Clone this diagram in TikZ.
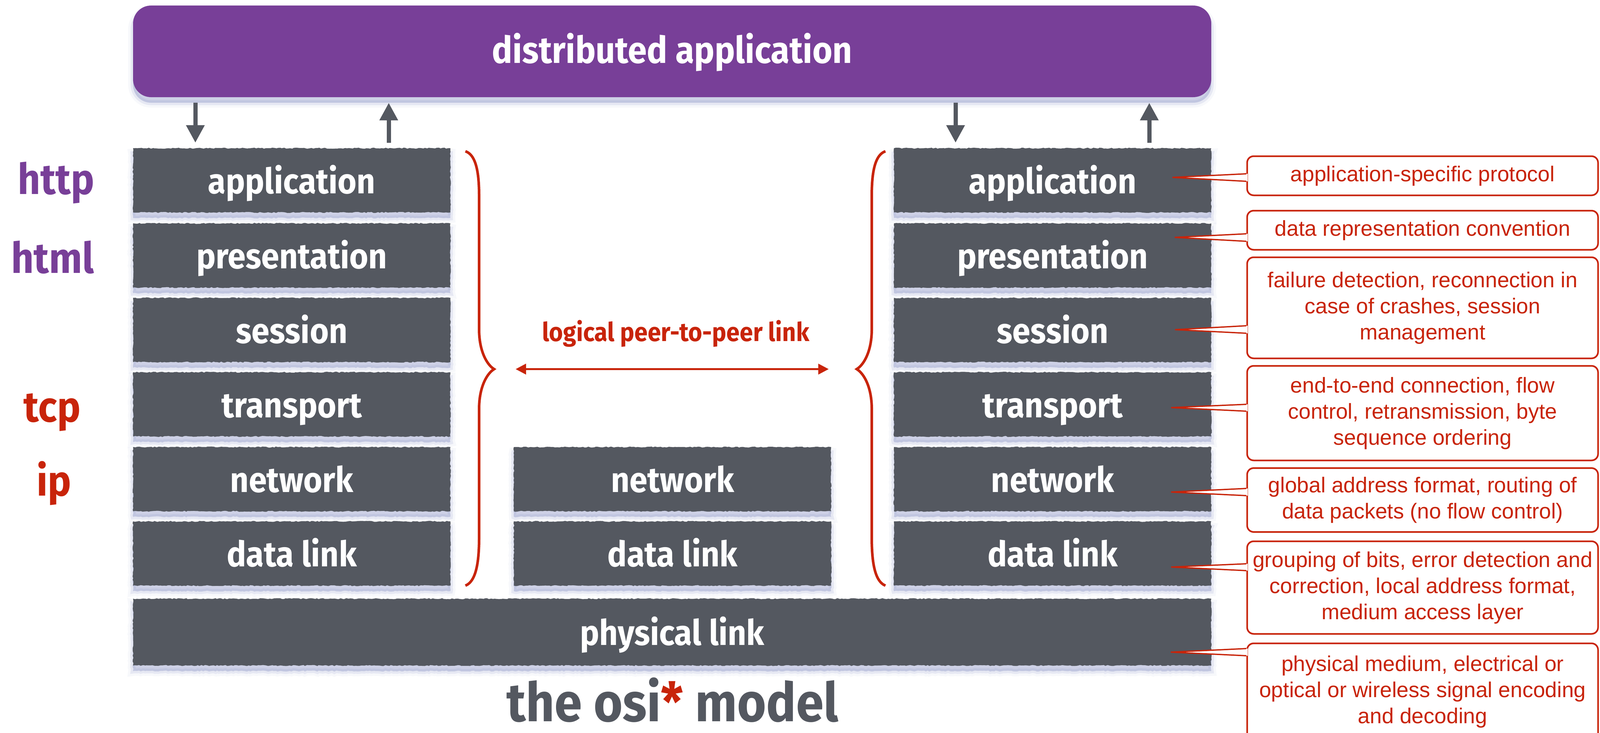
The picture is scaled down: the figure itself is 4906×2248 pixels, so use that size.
\documentclass[tikz,border=0pt]{standalone}
\usepackage{fontspec}
\setmainfont{Liberation Sans}
\newfontfamily\hand[FakeStretch=0.92]{Fira Sans}
\usetikzlibrary{arrows.meta,decorations.pathmorphing}
\definecolor{purp}{RGB}{120,63,152}
\definecolor{slate}{RGB}{84,88,96}
\definecolor{rd}{RGB}{200,36,10}
\definecolor{shadowc}{RGB}{125,135,190}
\tikzset{
  rough/.style={decorate,decoration={random steps,segment length=6pt,amplitude=1.6pt}},
  shad/.style={
    preaction={draw=shadowc,draw opacity=0.06,line width=30pt,transform canvas={yshift=-17pt}},
    preaction={fill=shadowc,fill opacity=0.35,draw=shadowc,draw opacity=0.14,line width=15pt,transform canvas={yshift=-17pt}}},
  hw/.style={font=\hand\bfseries\fontsize{#1}{#1}\selectfont},
  layer/.style={rough,shad,fill=slate,text=white,hw=108,minimum width=973pt,minimum height=197pt,inner sep=0pt,text height=80pt,text depth=0pt},
  appbox/.style={shad,fill=purp,text=white,hw=114,minimum width=3306pt,minimum height=281pt,inner sep=0pt,rounded corners=55pt,text height=71pt,text depth=0pt},
  side/.style={hw=131,anchor=base,inner sep=0pt},
  note/.style={draw=rd,line width=5pt,rounded corners=20pt,fill=white,text=rd,align=center,font=\fontsize{66}{80}\selectfont,inner sep=0pt,minimum width=1076pt},
  garrow/.style={draw=slate,line width=13pt,-{Triangle[width=54pt,length=54pt]}},
  brace/.style={draw=rd,line width=8pt},
  ptr/.style={draw=rd,line width=4pt,line join=miter},
}
\begin{document}
\begin{tikzpicture}[x=1pt,y=-1pt]
\useasboundingbox (0,0) rectangle (4906,2248);
\clip (0,0) rectangle (4906,2248);

% annotation boxes
\node[note,minimum height=120pt] (n1) at (4362,539) {application-specific protocol};
\node[note,minimum height=120pt] (n2) at (4362,706) {data representation convention};
\node[note,minimum height=310pt] (n3) at (4362,944) {failure detection, reconnection in\\case of crashes, session\\management};
\node[note,minimum height=290pt] (n4) at (4362,1267) {end-to-end connection, flow\\control, retransmission, byte\\sequence ordering};
\node[note,minimum height=196pt] (n5) at (4362,1533.5) {global address format, routing of\\data packets (no flow control)};
\node[note,minimum height=284pt] (n6) at (4362,1802) {grouping of bits, error detection and\\correction, local address format,\\medium access layer};
\node[note,minimum height=296pt] (n7) at (4362,2121) {physical medium, electrical or\\optical or wireless signal encoding\\and decoding};

% top box
\node[appbox] (dist) at (2061,157.5) {distributed application};

% left stack
\node[layer] (appL) at (894.5,553) {application};
\node[layer] (preL) at (894.5,783.5) {presentation};
\node[layer] (sesL) at (894.5,1012) {session};
\node[layer] (traL) at (894.5,1240) {transport};
\node[layer] (netL) at (894.5,1469.5) {network};
\node[layer] (dlL) at (894.5,1697.5) {data link};
% middle stack
\node[layer] (netM) at (2062,1469.5) {network};
\node[layer] (dlM) at (2062,1697.5) {data link};
% right stack
\node[layer] (appR) at (3227.5,553) {application};
\node[layer] (preR) at (3227.5,783.5) {presentation};
\node[layer] (sesR) at (3227.5,1012) {session};
\node[layer] (traR) at (3227.5,1240) {transport};
\node[layer] (netR) at (3227.5,1469.5) {network};
\node[layer] (dlR) at (3227.5,1697.5) {data link};
% physical
\node[layer,minimum width=3306pt,minimum height=205pt] (phys) at (2061,1938.5) {physical link};

% arrows between top box and application layers
\coordinate (dL) at (599,0);
\coordinate (uL) at (1192,0);
\coordinate (dR) at (2930,0);
\coordinate (uR) at (3524,0);
\draw[garrow,shorten <=17pt,shorten >=16.5pt] (dist.south -| dL) -- (appL.north -| dL);
\draw[garrow,shorten <=16.5pt,shorten >=17pt] (appL.north -| uL) -- (dist.south -| uL);
\draw[garrow,shorten <=17pt,shorten >=16.5pt] (dist.south -| dR) -- (appR.north -| dR);
\draw[garrow,shorten <=16.5pt,shorten >=17pt] (appR.north -| uR) -- (dist.south -| uR);

% braces
\draw[brace] (1427,464) .. controls (1460,475) and (1469,530) .. (1469,600) -- (1469,1010)
  .. controls (1469,1080) and (1495,1120) .. (1515,1132)
  .. controls (1495,1144) and (1469,1184) .. (1469,1254) -- (1469,1650)
  .. controls (1469,1740) and (1455,1785) .. (1427,1796);
\draw[brace] (2715,464) .. controls (2682,475) and (2673,530) .. (2673,600) -- (2673,1010)
  .. controls (2673,1080) and (2647,1120) .. (2627,1132)
  .. controls (2647,1144) and (2673,1184) .. (2673,1254) -- (2673,1650)
  .. controls (2673,1740) and (2687,1785) .. (2715,1796);
\coordinate (bL) at (1515,1132);
\coordinate (bR) at (2627,1132);
\draw[rd,line width=6pt,{Triangle[width=32pt,length=32pt]}-{Triangle[width=32pt,length=32pt]},shorten <=66pt,shorten >=86pt] (bL) -- (bR);
\node[hw=80,text=rd,anchor=base,inner sep=0pt] (logic) at (2072,1046) {logical peer-to-peer link};

% protocol labels
\node[side,text=purp] (http) at (172,595) {http};
\node[side,text=purp] (html) at (161,837) {html};
\node[side,text=rd] (tcp) at (160,1293) {tcp};
\node[side,text=rd] (ip) at (165,1520) {ip};

% title
\node[hw=166,text=slate,anchor=base,inner sep=0pt] (osi) at (2062,2212) {the osi{\color{rd}*} model};

% callout pointers
\foreach \nm/\tx/\ty/\ya/\yb in {n1/3595/544/533/556, n2/3602/728/717/740, n3/3603/1011/999/1022, n4/3591/1250/1240/1261, n5/3591/1509/1498/1520, n6/3591/1739/1729/1750, n7/3590/2000/1989/2011}{
  \coordinate (tip) at (\tx,\ty);
  \coordinate (ya) at (0,\ya);
  \coordinate (yb) at (0,\yb);
  \fill[white] (tip) -- (\nm.west |- ya) -- ++(4,0) -- ++(0,{\yb-\ya}) -- (\nm.west |- yb) -- cycle;
  \draw[ptr] (\nm.west |- ya) -- (tip) -- (\nm.west |- yb);
}
\end{tikzpicture}
\end{document}
